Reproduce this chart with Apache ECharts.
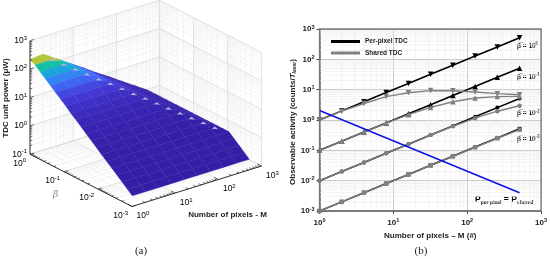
<!DOCTYPE html>
<html><head><meta charset="utf-8">
<style>html,body{margin:0;padding:0;background:#fff}#c{width:550px;height:259px}</style>
<script src="https://cdn.jsdelivr.net/npm/echarts@6/dist/echarts.min.js"></script>
</head><body><div id="c"></div>
<script>
// ---------- panel (b) data ----------
const pixels = [1,2,4,8,16,32,64,128,256,512];
const perPixelB0 = [1,2,4,8,16,32,64,128,256,512];
const perPixelB1 = [0.1,0.2,0.4,0.8,1.6,3.2,6.4,12.8,25.6,51.2];
const perPixelB2 = [0.01,0.02,0.04,0.08,0.16,0.32,0.64,1.28,2.56,5.12];
const perPixelB3 = [0.001,0.002,0.004,0.008,0.016,0.032,0.064,0.128,0.256,0.512];
const sharedB0 = [1,1.95,3.5,5.9,7.9,9.3,9.2,8.4,7.4,6.8];
const sharedB1 = [0.1,0.2,0.4,0.79,1.5,2.6,4,5.3,5.9,6];
const sharedB2 = [0.01,0.02,0.04,0.08,0.16,0.32,0.62,1.15,1.95,2.95];
const sharedB3 = [0.001,0.002,0.004,0.008,0.016,0.032,0.064,0.126,0.25,0.48];
const breakEvenPixels = [1,512];
const breakEvenActivity = [2.05,0.004];
const xDecades = [1,10,100,1000];
const yDecades = [0.001,0.01,0.1,1,10,100,1000];
const minorFactors = [2,3,4,5,6,7,8,9];

// ---------- panel (a) data ----------
const surfaceM = [1,2,4,8,16,32,64,128,256,512];
const surfaceBeta = [1,0.707,0.5,0.354,0.25,0.177,0.125,0.0884,0.0625,0.0442,0.03125,0.0221,0.0156,0.01105,0.0078,0.00552,0.0039,0.00276,0.00195,0.00138,0.00098];
const surfacePower = [
 [219,245,122,61,31,15,7.7,3.8,1.9,0.96],
 [173,173,122,61,31,15,7.7,3.8,1.9,0.96],
 [122,122,122,61,31,15,7.7,3.8,1.9,0.96],
 [87,87,87,61,31,15,7.7,3.8,1.9,0.96],
 [61,61,61,61,31,15,7.7,3.8,1.9,0.96],
 [43,43,43,43,31,15,7.7,3.8,1.9,0.96],
 [31,31,31,31,31,15,7.7,3.8,1.9,0.96],
 [22,22,22,22,22,15,7.7,3.8,1.9,0.96],
 [15,15,15,15,15,15,7.7,3.8,1.9,0.96],
 [11,11,11,11,11,11,7.7,3.8,1.9,0.96],
 [7.7,7.7,7.7,7.7,7.7,7.7,7.7,3.8,1.9,0.96],
 [5.4,5.4,5.4,5.4,5.4,5.4,5.4,3.8,1.9,0.96],
 [3.8,3.8,3.8,3.8,3.8,3.8,3.8,3.8,1.9,0.96],
 [2.7,2.7,2.7,2.7,2.7,2.7,2.7,2.7,1.9,0.96],
 [1.9,1.9,1.9,1.9,1.9,1.9,1.9,1.9,1.9,0.96],
 [1.35,1.35,1.35,1.35,1.35,1.35,1.35,1.35,1.35,0.96],
 [0.96,0.96,0.96,0.96,0.96,0.96,0.96,0.96,0.96,0.96],
 [0.68,0.68,0.68,0.68,0.68,0.68,0.68,0.68,0.68,0.68],
 [0.48,0.48,0.48,0.48,0.48,0.48,0.48,0.48,0.48,0.48],
 [0.34,0.34,0.34,0.34,0.34,0.34,0.34,0.34,0.34,0.34],
 [0.24,0.24,0.24,0.24,0.24,0.24,0.24,0.24,0.24,0.24]
];
const ridgeM = [2.83,4,5.66,8,11.3,16,22.6,32,45.3,64,90.5,128,181,256,362];
const ridgeBeta = [0.707,0.5,0.354,0.25,0.177,0.125,0.0884,0.0625,0.0442,0.03125,0.0221,0.0156,0.01105,0.0078,0.00552];
const ridgePower = [173,122,87,61,43,31,22,15,11,7.7,5.4,3.8,2.7,1.9,1.35];
const mDecades = [1,10,100,1000];
const betaDecades = [1,0.1,0.01,0.001];
const zDecades = [0.1,1,10,100,1000];

// ---------- style ----------
const parula = [[52,30,165],[68,56,215],[62,110,250],[40,150,235],[20,175,205],[15,190,170],[70,200,125],[165,200,60],[230,185,60],[252,210,45],[249,251,21]];
const colorMax = 290;
const font = '"Liberation Sans", Arial, sans-serif';
const view = {ox:30, oy:154.3, mx:43.2, my:-13.5, bx:34, by:17.4, zy:-28.4};

const lg = Math.log10;
const sup = e => `{b|10}{s|${e}}`;
function project(api, m, b, z){ // all in decades
  const u = view.ox + m*view.mx + (-b)*view.bx;
  const v = view.oy + m*view.my + (-b)*view.by + (z+1)*view.zy;
  return api.coord([u,v]);
}
function colorOf(z){
  const t = Math.min(1, z/colorMax)*(parula.length-1);
  const i = Math.min(parula.length-2, Math.floor(t)), f = t-i;
  const c = parula[i].map((a,k)=>Math.round(a+(parula[i+1][k]-a)*f));
  return `rgb(${c.join(',')})`;
}
// 3D grid line segments, in decades [m1,b1,z1,m2,b2,z2,isMajor]
const wallSegs = [];
function logLines(dec, fn){
  dec.slice(0,-1).forEach(d=>{
    fn(lg(d),1);
    minorFactors.forEach(f=>fn(lg(d*f),0));
  });
  fn(lg(dec[dec.length-1]),1);
}
const betaAsc = betaDecades.slice().reverse();
const M0=0,M1=3,B0=0,B1=-3,Z0=-1,Z1=3;
logLines(mDecades,(m,k)=>{ wallSegs.push([m,B0,Z0,m,B0,Z1,k]); wallSegs.push([m,B0,Z0,m,B1,Z0,k]); });
logLines(betaAsc,(b,k)=>{ wallSegs.push([M1,b,Z0,M1,b,Z1,k]); wallSegs.push([M0,b,Z0,M1,b,Z0,k]); });
logLines(zDecades,(z,k)=>{ wallSegs.push([M0,B0,z,M1,B0,z,k]); wallSegs.push([M1,B0,z,M1,B1,z,k]); });

// surface cells, painted from the back corner to the front corner
const cells = [];
surfaceBeta.slice(0,-1).forEach((_,r)=>{
  for(let c=surfaceM.length-2;c>=0;c--){
    const pts = [[c,r],[c+1,r],[c+1,r+1],[c,r+1]];
    const level = (Math.max(surfacePower[r][c],surfacePower[r][c+1])+Math.max(surfacePower[r+1][c],surfacePower[r+1][c+1]))/2;
    cells.push(pts.map(([cc,rr])=>[lg(surfaceM[cc]),lg(surfaceBeta[rr]),lg(surfacePower[rr][cc])]).concat([level]));
  }
});
// axis ticks: [m,b,z,dm,db,dz]
const tickSegs = [];
logLines(mDecades,(m,k)=>tickSegs.push([m,B1,Z0,0,k?0.12:0.07,0]));
logLines(betaAsc,(b,k)=>tickSegs.push([M0,b,Z0,k?0.09:0.05,0,0]));
logLines(zDecades,(z,k)=>tickSegs.push([M0,B0,z,k?0.09:0.05,0,0]));
const axisSegs = [[M0,B0,Z0,M0,B0,Z1],[M0,B0,Z0,M0,B1,Z0],[M0,B1,Z0,M1,B1,Z0]];

const richA = {b:{fontSize:8.5,fontFamily:font,color:'#2a2a2a',lineHeight:11},s:{fontSize:6,fontFamily:font,color:'#2a2a2a',verticalAlign:'top',lineHeight:6}};
const labelsA = [];
zDecades.forEach(v=>{const e=Math.round(lg(v));labelsA.push([M0,B0,e,-3,0,e,'right']);});
betaDecades.forEach(v=>{const e=Math.round(lg(v));labelsA.push([M0,e,Z0,-4,9,e,'right']);});
mDecades.forEach(v=>{const e=Math.round(lg(v));labelsA.push([e,B1,Z0,4.5,9.5,e,'left']);});

const richB = {b:{fontSize:8,fontWeight:'bold',fontFamily:font,color:'#222',lineHeight:10},s:{fontSize:5.5,fontWeight:'bold',fontFamily:font,color:'#222',verticalAlign:'top',lineHeight:6}};
const rightGrid = {left:319.5, top:29, width:223.5, height:182};

const minorX=[], minorY=[];
xDecades.slice(0,-1).forEach(d=>minorFactors.forEach(f=>minorX.push(d*f)));
yDecades.slice(0,-1).forEach(d=>minorFactors.forEach(f=>minorY.push(d*f)));

function ppSeries(data, sym, rot){
  return {name:'Per-pixel TDC',type:'line',data:pixels.map((m,i)=>[m,data[i]]),xAxisIndex:0,yAxisIndex:0,
    symbol:sym,symbolSize:sym==='circle'||sym==='rect'?4:5.5,symbolRotate:rot||0,showAllSymbol:true,lineStyle:{color:'#000',width:1.6},itemStyle:{color:'#000'},z:4};
}
function shSeries(data, sym, rot){
  return {name:'Shared TDC',type:'line',data:pixels.map((m,i)=>[m,data[i]]),xAxisIndex:0,yAxisIndex:0,
    symbol:sym,symbolSize:sym==='circle'||sym==='rect'?4.5:5.5,symbolRotate:rot||0,showAllSymbol:true,lineStyle:{color:'#808080',width:1.4},itemStyle:{color:'#808080'},z:5};
}
const logAxis = (min,max,labelMargin,extra)=>Object.assign({type:'log',logBase:10,min,max,
  axisLine:{show:true,onZero:false,lineStyle:{color:'#666',width:1.5}},
  axisTick:{show:true,length:3,inside:false,lineStyle:{color:'#444',width:1}},
  splitLine:{show:true,lineStyle:{color:'#c8c8c8',width:1}},
  axisLabel:{formatter:v=>sup(Math.round(lg(v))),rich:richB,margin:labelMargin}},extra);

const betaLabel = e=>`{t|β\u0305 = 10}{u|${e}}`;
const betaRich = {t:{fontSize:6.5,fontWeight:'bold',fontFamily:font,color:'#222',lineHeight:9},u:{fontSize:4.5,fontWeight:'bold',fontFamily:font,color:'#222',verticalAlign:'top',lineHeight:5}};
const txt = (x,y,style)=>({type:'text',x,y,silent:true,style:Object.assign({fontFamily:font},style)});

const option = {
  animation:false,
  backgroundColor:'#fff',
  grid:[rightGrid,{left:0,top:0,width:275,height:259,show:false}],
  xAxis:[
    logAxis(1,1000,6.5,{name:'Number of pixels – M (#)',nameLocation:'middle',nameGap:9,nameTextStyle:{fontSize:8,fontWeight:'bold',fontFamily:font,color:'#222'},gridIndex:0}),
    {type:'value',gridIndex:1,min:0,max:275,show:false}
  ],
  yAxis:[
    logAxis(0.001,1000,5,{name:'{a|Observable activity (counts/}{i|T}{d|laser}{a|)}',nameLocation:'middle',nameGap:11,gridIndex:0,
      nameTextStyle:{padding:[0,4,0,0],rich:{a:{fontSize:8,fontWeight:'bold',fontFamily:font,color:'#222'},i:{fontSize:8,fontWeight:'bold',fontStyle:'italic',fontFamily:font,color:'#222'},d:{fontSize:5,fontWeight:'bold',fontStyle:'italic',fontFamily:font,color:'#222',verticalAlign:'bottom'}}}}),
    {type:'value',gridIndex:1,min:0,max:259,inverse:true,show:false}
  ],
  legend:{left:326,top:33,orient:'vertical',itemWidth:29,itemHeight:3,itemGap:4.5,icon:'rect',
    data:['Per-pixel TDC','Shared TDC'],selectedMode:false,
    textStyle:{fontSize:6.5,fontWeight:'bold',fontFamily:font,color:'#222'}},
  graphic:[
    txt(141,251.5,{text:'(a)',fontSize:11,fontFamily:'"Liberation Serif",serif',fill:'#222',align:'center',verticalAlign:'middle'}),
    txt(421,251,{text:'(b)',fontSize:11,fontFamily:'"Liberation Serif",serif',fill:'#222',align:'center',verticalAlign:'middle'}),
    {type:'text',x:6,y:98,rotation:Math.PI/2,silent:true,style:{text:'TDC unit power (μW)',fontFamily:font,fontSize:8,fontWeight:'bold',fill:'#222',align:'center',verticalAlign:'middle'}},
    txt(55.5,195,{text:'β\u0305',fontFamily:'"DejaVu Serif",serif',fontStyle:'italic',fontSize:9,fill:'#888',align:'center',verticalAlign:'middle'}),
    txt(227.5,215,{text:'Number of pixels - M',fontSize:8,fontWeight:'bold',fill:'#222',align:'center',verticalAlign:'middle'}),
    txt(517,46,{text:betaLabel(0),rich:betaRich,verticalAlign:'middle'}),
    txt(517,77,{text:betaLabel(-1),rich:betaRich,verticalAlign:'middle'}),
    txt(517,113.5,{text:betaLabel(-2),rich:betaRich,verticalAlign:'middle'}),
    txt(517,139,{text:betaLabel(-3),rich:betaRich,verticalAlign:'middle'}),
    txt(475,200,{text:'{p|P}{q|per-pixel}{p| = P}{q|shared}',verticalAlign:'middle',rich:{
      p:{fontSize:8.5,fontWeight:'bold',fontFamily:font,color:'#1515e0',lineHeight:11},
      q:{fontSize:5,fontWeight:'bold',fontFamily:font,color:'#1515e0',verticalAlign:'bottom',lineHeight:6}}})
  ],
  series:[
    {type:'custom',xAxisIndex:0,yAxisIndex:0,silent:true,z:1,clip:true,
      data:minorX.map(v=>[v,0]).concat(minorY.map(v=>[v,1])),
      renderItem:(p,api)=>{
        const v=api.value(0), isY=api.value(1)===1;
        const a=isY?api.coord([1,v]):api.coord([v,0.001]);
        const b=isY?api.coord([1000,v]):api.coord([v,1000]);
        const t=isY?[a[0]-2,a[1]]:[a[0],a[1]+2];
        return {type:'group',children:[
          {type:'line',shape:{x1:a[0],y1:a[1],x2:b[0],y2:b[1]},style:{stroke:'#ececec',lineWidth:0.7}},
          {type:'line',shape:{x1:a[0],y1:a[1],x2:t[0],y2:t[1]},style:{stroke:'#555',lineWidth:0.7}}
        ]};
      }},
    ppSeries(perPixelB0,'triangle',180),ppSeries(perPixelB1,'triangle'),ppSeries(perPixelB2,'circle'),ppSeries(perPixelB3,'rect'),
    shSeries(sharedB0,'triangle',180),shSeries(sharedB1,'triangle'),shSeries(sharedB2,'circle'),shSeries(sharedB3,'rect'),
    {name:'break-even',type:'line',data:breakEvenPixels.map((m,i)=>[m,breakEvenActivity[i]]),xAxisIndex:0,yAxisIndex:0,symbol:'none',lineStyle:{color:'#1010e8',width:1.5},z:6},
    {type:'custom',xAxisIndex:0,yAxisIndex:0,silent:true,z:7,clip:false,data:[[1]],
      renderItem:(p,api)=>{
        const a=api.coord([1,1000]),b=api.coord([1000,0.001]);
        return {type:'rect',shape:{x:a[0],y:a[1],width:b[0]-a[0],height:b[1]-a[1]},style:{fill:'none',stroke:'#777',lineWidth:1.3}};
      }},
    {type:'custom',xAxisIndex:1,yAxisIndex:1,silent:true,z:1,clip:false,data:wallSegs,
      renderItem:(p,api)=>{
        const a=project(api,api.value(0),api.value(1),api.value(2)),b=project(api,api.value(3),api.value(4),api.value(5));
        return {type:'line',shape:{x1:a[0],y1:a[1],x2:b[0],y2:b[1]},style:{stroke:api.value(6)?'#d2d2d2':'#ececec',lineWidth:api.value(6)?0.7:0.6}};
      }},
    {type:'custom',xAxisIndex:1,yAxisIndex:1,silent:true,z:2,clip:false,data:cells.map((c,i)=>[i]),
      renderItem:(p,api)=>{
        const c=cells[api.value(0)];
        const col=colorOf(c[4]);
        return {type:'polygon',shape:{points:c.slice(0,4).map(q=>project(api,q[0],q[1],q[2]))},style:{fill:col,stroke:col,lineWidth:0.4}};
      }},
    {type:'custom',xAxisIndex:1,yAxisIndex:1,silent:true,z:3,clip:false,data:ridgeM.map((m,i)=>[lg(m),lg(ridgeBeta[i]),lg(ridgePower[i])]),
      renderItem:(p,api)=>{
        const o=project(api,api.value(0),api.value(1),api.value(2));
        const x=o[0]-2.5, y=o[1]+1;
        return {type:'polygon',shape:{points:[[x-3,y+0.8],[x,y-1.4],[x+3.5,y+1.2]]},style:{fill:'#b4b4e4'}};
      }},
    {type:'custom',xAxisIndex:1,yAxisIndex:1,silent:true,z:4,clip:false,data:axisSegs,
      renderItem:(p,api)=>{
        const a=project(api,api.value(0),api.value(1),api.value(2)),b=project(api,api.value(3),api.value(4),api.value(5));
        return {type:'line',shape:{x1:a[0],y1:a[1],x2:b[0],y2:b[1]},style:{stroke:'#333',lineWidth:1}};
      }},
    {type:'custom',xAxisIndex:1,yAxisIndex:1,silent:true,z:4,clip:false,data:tickSegs,
      renderItem:(p,api)=>{
        const m=api.value(0),b=api.value(1),z=api.value(2);
        const a=project(api,m,b,z),e=project(api,m+api.value(3),b+api.value(4),z+api.value(5));
        return {type:'line',shape:{x1:a[0],y1:a[1],x2:e[0],y2:e[1]},style:{stroke:'#333',lineWidth:0.7}};
      }},
    {type:'custom',xAxisIndex:1,yAxisIndex:1,silent:true,z:4,clip:false,data:labelsA.map((l,i)=>[i]),
      renderItem:(p,api)=>{
        const l=labelsA[api.value(0)];
        const o=project(api,l[0],l[1],l[2]);
        return {type:'text',x:o[0]+l[3],y:o[1]+l[4],style:{text:sup(l[5]),rich:richA,align:l[6],verticalAlign:'middle'}};
      }}
  ]
};
const chart = echarts.init(document.getElementById('c'),null,{renderer:'canvas'});
chart.setOption(option);
</script></body></html>
